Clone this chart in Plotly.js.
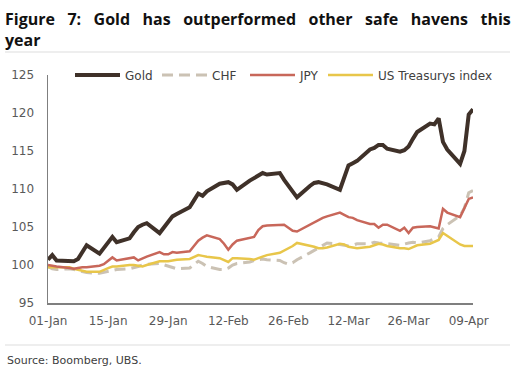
<!DOCTYPE html>
<html>
<head>
<meta charset="utf-8">
<script src="https://cdn.plot.ly/plotly-3.0.1.min.js"></script>
<style>html,body{margin:0;padding:0;background:#fff;}#chart{width:515px;height:373px;}</style>
</head>
<body>
<div id="chart"></div>
<script>
// Business days, 2025
const dates = ['2025-01-01','2025-01-02','2025-01-03','2025-01-06','2025-01-07','2025-01-08','2025-01-09','2025-01-10','2025-01-13','2025-01-14','2025-01-15','2025-01-16','2025-01-17','2025-01-20','2025-01-21','2025-01-22','2025-01-23','2025-01-24','2025-01-27','2025-01-28','2025-01-29','2025-01-30','2025-01-31',
'2025-02-03','2025-02-04','2025-02-05','2025-02-06','2025-02-07','2025-02-10','2025-02-11','2025-02-12','2025-02-13','2025-02-14','2025-02-17','2025-02-18','2025-02-19','2025-02-20','2025-02-21','2025-02-24','2025-02-25','2025-02-26','2025-02-27','2025-02-28',
'2025-03-03','2025-03-04','2025-03-05','2025-03-06','2025-03-07','2025-03-10','2025-03-11','2025-03-12','2025-03-13','2025-03-14','2025-03-17','2025-03-18','2025-03-19','2025-03-20','2025-03-21','2025-03-24','2025-03-25','2025-03-26','2025-03-27','2025-03-28','2025-03-31',
'2025-04-01','2025-04-02','2025-04-03','2025-04-04','2025-04-07','2025-04-08','2025-04-09','2025-04-10'];

const gold = [100.7,101.3,100.6,100.5,100.5,100.8,101.8,102.6,101.5,102.3,103.0,103.7,103.0,103.5,104.3,105.0,105.3,105.5,104.2,105.0,105.8,106.4,106.7,
107.6,108.5,109.4,109.1,109.7,110.7,110.8,110.9,110.6,109.9,111.1,111.4,111.8,112.1,111.9,112.1,111.2,110.4,109.5,108.9,
110.4,110.8,110.9,110.8,110.6,109.9,111.5,113.1,113.4,113.7,115.2,115.4,115.8,115.8,115.3,114.9,115.1,115.6,116.6,117.5,118.6,
118.5,119.3,116.2,115.2,113.3,115.0,119.8,120.5];

const chf = [99.8,99.5,99.4,99.5,99.4,99.3,99.2,99.0,98.9,99.0,99.1,99.3,99.4,99.5,99.6,99.8,100.0,100.1,100.2,100.0,99.8,99.7,99.5,
99.6,100.0,100.5,100.2,99.8,99.4,99.4,99.6,100.0,100.2,100.4,100.6,100.7,100.8,100.7,100.6,100.3,100.1,100.3,100.7,
101.6,101.9,102.2,102.6,102.9,102.7,102.6,102.5,102.6,102.8,102.8,103.0,102.9,102.8,102.8,102.6,102.8,102.9,103.0,102.9,103.2,
103.5,103.7,104.8,105.3,106.5,107.5,109.5,109.8];

const jpy = [100.0,99.9,99.8,99.6,99.5,99.6,99.7,99.7,99.9,100.1,100.6,101.0,100.6,100.9,101.0,100.6,100.9,101.1,101.7,101.4,101.4,101.7,101.6,
101.8,102.5,103.2,103.6,103.9,103.4,102.8,102.0,102.7,103.2,103.5,103.7,104.6,105.1,105.2,105.3,105.3,104.9,104.5,104.4,
105.3,105.7,106.0,106.2,106.4,106.9,106.6,106.3,106.2,105.9,105.4,105.4,104.9,105.3,105.3,104.5,104.9,104.2,104.9,105.0,105.1,
105.0,104.8,107.4,106.9,106.3,107.4,108.7,108.9];

const ust = [99.7,99.7,99.7,99.7,99.5,99.4,99.3,99.1,99.1,99.4,99.6,99.8,99.8,100.0,100.0,99.9,99.8,100.0,100.5,100.5,100.5,100.6,100.7,
100.8,101.1,101.3,101.2,101.1,100.9,100.7,100.4,100.9,100.9,100.8,100.7,100.9,101.1,101.3,101.6,101.9,102.1,102.5,102.9,
102.6,102.4,102.2,102.2,102.3,102.8,102.7,102.4,102.3,102.2,102.4,102.6,102.8,102.7,102.5,102.2,102.2,102.1,102.3,102.6,102.8,
103.0,103.3,104.2,103.8,102.7,102.5,102.5,102.5];

const seriesNames = ['Gold','CHF','JPY','US Treasurys index'];
const yTicks = [95,100,105,110,115,120,125];

const traces = [
  {x: dates, y: chf, name: seriesNames[1], type: 'scatter', mode: 'lines', legend: 'legend2',
   line: {color: '#cbc2b4', width: 3, dash: '11px,6px'}},
  {x: dates, y: ust, name: seriesNames[3], type: 'scatter', mode: 'lines', legend: 'legend4',
   line: {color: '#e8c64a', width: 2.5}},
  {x: dates, y: jpy, name: seriesNames[2], type: 'scatter', mode: 'lines', legend: 'legend3',
   line: {color: '#c8675a', width: 2.5}},
  {x: dates, y: gold, name: seriesNames[0], type: 'scatter', mode: 'lines', legend: 'legend',
   line: {color: '#3f3129', width: 4}}
];

function legendAt(px) {
  return {
    orientation: 'h', x: (px - 48) / 425, xanchor: 'left', y: 1.0, yanchor: 'middle',
    bgcolor: 'rgba(0,0,0,0)', itemwidth: 45,
    font: {family: 'DejaVu Sans, sans-serif', size: 12, color: '#404040'}
  };
}

const sp = '&nbsp;&nbsp; ';
const layout = {
  width: 515, height: 373,
  margin: {l: 48, r: 42, t: 75, b: 70},
  paper_bgcolor: '#ffffff', plot_bgcolor: '#ffffff',
  font: {family: 'DejaVu Sans, sans-serif', size: 12, color: '#595959'},
  title: {
    text: '<b>Figure' + sp + '7:' + sp + 'Gold' + sp + 'has' + sp + 'outperformed' + sp + 'other' + sp + 'safe' + sp + 'havens' + sp + 'this<br>year</b>',
    font: {family: 'Open Sans, sans-serif', size: 16, color: '#111111'},
    x: 5/515, xref: 'container', xanchor: 'left',
    y: 1 - 25/373, yref: 'container', yanchor: 'top'
  },
  showlegend: true,
  legend: legendAt(70),
  legend2: legendAt(157),
  legend3: legendAt(245),
  legend4: legendAt(323),
  xaxis: {
    type: 'date', range: ['2025-01-01', '2025-04-10'],
    tick0: '2025-01-01', dtick: 14*86400000, tickformat: '%d-%b',
    showgrid: false, zeroline: false, showline: true, linecolor: '#7f7f7f', linewidth: 1.5,
    ticks: '', ticklabelstandoff: 6,
    tickfont: {family: 'DejaVu Sans, sans-serif', size: 12, color: '#595959'}
  },
  yaxis: {
    range: [95, 125], tickvals: yTicks, ticktext: yTicks.map(String),
    showgrid: false, zeroline: false, showline: true, linecolor: '#7f7f7f', linewidth: 1.5,
    ticks: '', ticklabelstandoff: 10,
    tickfont: {family: 'DejaVu Sans, sans-serif', size: 12, color: '#595959'}
  },
  shapes: [
    {type: 'line', xref: 'paper', yref: 'paper', x0: -43/425, x1: 462/425, y0: (303-52)/228, y1: (303-52)/228,
     line: {color: '#dddddd', width: 1}},
    {type: 'line', xref: 'paper', yref: 'paper', x0: -43/425, x1: 462/425, y0: -(345-303)/228, y1: -(345-303)/228,
     line: {color: '#dddddd', width: 1}}
  ],
  annotations: [
    {text: 'Source: Boomberg, UBS.', xref: 'paper', yref: 'paper', x: -43/425, y: -(360-303)/228,
     xanchor: 'left', yanchor: 'middle', showarrow: false,
     font: {family: 'DejaVu Sans, sans-serif', size: 11, color: '#404040'}}
  ]
};

Plotly.newPlot('chart', traces, layout, {staticPlot: true, displayModeBar: false});
</script>
</body>
</html>
